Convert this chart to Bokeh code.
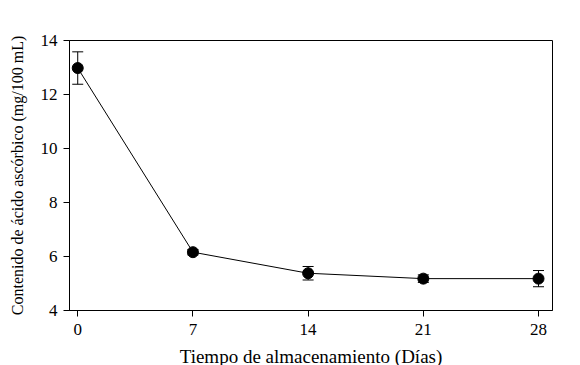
from bokeh.plotting import figure
from bokeh.models import ColumnDataSource, Whisker, TeeHead, FixedTicker, Range1d
from bokeh.embed import file_html
from bokeh.resources import INLINE

days = [0, 7, 14, 21, 28]
acido = [12.98, 6.16, 5.38, 5.18, 5.18]
error = [0.60, 0.10, 0.25, 0.14, 0.30]
x_ticks = [0, 7, 14, 21, 28]
y_ticks = [4, 6, 8, 10, 12, 14]

src = ColumnDataSource(dict(
    x=days, y=acido,
    upper=[a + e for a, e in zip(acido, error)],
    lower=[a - e for a, e in zip(acido, error)],
))

FONT = "Liberation Serif"

p = figure(frame_width=483, frame_height=270, output_backend="svg", toolbar_location=None,
           x_range=Range1d(-0.5, 28.85), y_range=Range1d(4, 14),
           min_border_left=69, min_border_top=40, min_border_right=20, min_border_bottom=47)
p.background_fill_color = "white"
p.border_fill_color = "white"
p.outline_line_color = "black"
p.outline_line_width = 1
p.grid.visible = False

p.line("x", "y", source=src, line_color="black", line_width=1)
w = Whisker(source=src, base="x", upper="upper", lower="lower",
            line_color="black", line_width=1,
            upper_head=TeeHead(size=11, line_color="black", line_width=1),
            lower_head=TeeHead(size=11, line_color="black", line_width=1))
p.add_layout(w)
p.scatter("x", "y", source=src, size=11, marker="circle", fill_color="black", line_color="black")

p.xaxis.ticker = FixedTicker(ticks=x_ticks)
p.yaxis.ticker = FixedTicker(ticks=y_ticks)
p.xaxis.axis_label = "Tiempo de almacenamiento (Días)"
p.yaxis.axis_label = "Contenido de ácido ascórbico (mg/100 mL)"
for ax in (p.xaxis, p.yaxis):
    ax.axis_line_color = "black"
    ax.major_tick_line_color = "black"
    ax.minor_tick_line_color = None
    ax.major_tick_in = 0
    ax.major_tick_out = 6
    ax.major_label_text_font = FONT
    ax.major_label_text_font_size = "17px"
    ax.major_label_text_color = "black"
    ax.axis_label_text_font = FONT
    ax.axis_label_text_font_style = "normal"
    ax.axis_label_text_color = "black"
p.xaxis.axis_label_text_font_size = "19px"
p.yaxis.axis_label_text_font_size = "16px"
p.xaxis.major_label_standoff = 7
p.yaxis.major_label_standoff = 6
p.xaxis.axis_label_standoff = 8
p.yaxis.axis_label_standoff = 12

open("out.html", "w").write(file_html(p, INLINE))
